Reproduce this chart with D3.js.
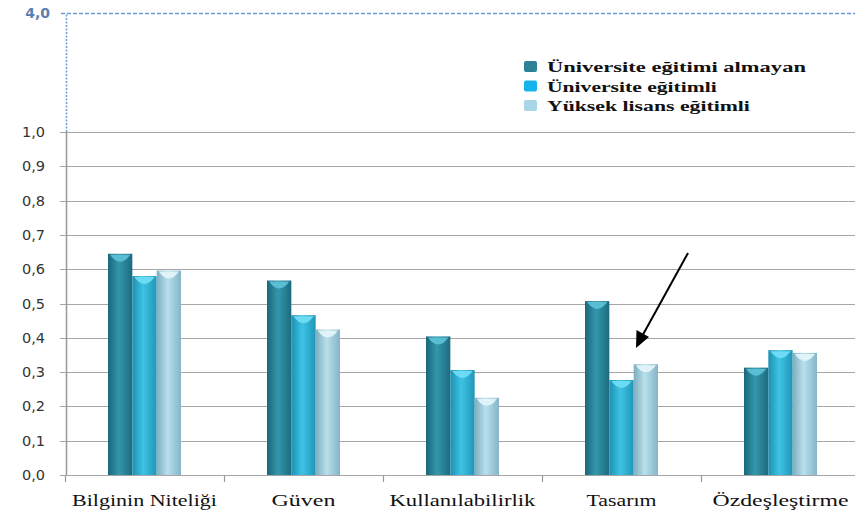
<!DOCTYPE html>
<html><head><meta charset="utf-8">
<script src="https://cdn.jsdelivr.net/npm/d3@7"></script>
<style>body{margin:0;background:#fff}svg{display:block}</style>
</head><body>
<svg id="c" width="855" height="518"></svg>
<script>
const categories = ["Bilginin Niteliği","Güven","Kullanılabilirlik","Tasarım","Özdeşleştirme"];
const seriesNames = ["Üniversite eğitimi almayan","Üniversite eğitimli","Yüksek lisans eğitimli"];
const almayan = [0.645, 0.567, 0.404, 0.507, 0.313];
const egitimli = [0.580, 0.466, 0.306, 0.277, 0.364];
const yuksek = [0.596, 0.424, 0.225, 0.323, 0.356];
const yTicks = [0,0.1,0.2,0.3,0.4,0.5,0.6,0.7,0.8,0.9,1.0];
const breakTop = 4.0;

const svg = d3.select("#c");
const L = 66, T = 132, B = 475, bandW = 159;
const x = d3.scaleBand().domain(categories).range([L-1, L-1+bandW*categories.length]).paddingInner(0).paddingOuter(0);
const y = d3.scaleLinear().domain([0,1]).range([B,T]);
const yBreak = d3.scaleLinear().domain([1,breakTop]).range([T,13]);
const xs = d3.scaleBand().domain([0,1,2]).range([0,73]);

const fmt = v => d3.format(".1f")(v).replace(".",",");

const defs = svg.append("defs");
const pal = [["#1a6779","#3497ad","#1c6b7d"],["#1e90b1","#3ec3e5","#2096b7"],["#7dadc0","#b9dfeb","#84b5c8"]];
pal.forEach((p,i)=>{
  const g = defs.append("linearGradient").attr("id","g"+i).attr("x1",0).attr("x2",1).attr("y1",0).attr("y2",0);
  g.append("stop").attr("offset","0%").attr("stop-color",p[0]);
  g.append("stop").attr("offset","45%").attr("stop-color",p[1]);
  g.append("stop").attr("offset","100%").attr("stop-color",p[2]);
});
const capCols = ["#5cc0d6","#6fdcf5","#e2f4fa"];

svg.append("g").selectAll("line").data(yTicks).join("line")
  .attr("x1",L-6).attr("x2",855).attr("y1",d=>Math.round(y(d))+0.5).attr("y2",d=>Math.round(y(d))+0.5)
  .attr("stroke","#a6a6a6").attr("stroke-width",1.2);

svg.append("g").selectAll("text").data(yTicks).join("text")
  .attr("x",45).attr("y",d=>y(d)+5).attr("text-anchor","end")
  .attr("font-family","DejaVu Sans, Verdana, sans-serif").attr("font-size",14.5).attr("fill","#333")
  .text(fmt);

svg.append("line").attr("x1",L+0.5).attr("x2",L+0.5).attr("y1",yBreak(1)).attr("y2",yBreak(breakTop))
  .attr("stroke","#6f9bd3").attr("stroke-width",1.5).attr("stroke-dasharray","2,1.5");
svg.append("line").attr("x1",L-5).attr("x2",855).attr("y1",yBreak(breakTop)+0.5).attr("y2",yBreak(breakTop)+0.5)
  .attr("stroke","#6f9bd3").attr("stroke-width",1.5).attr("stroke-dasharray","4,2");
svg.append("text").attr("x",50).attr("y",yBreak(breakTop)+5).attr("text-anchor","end")
  .attr("font-family","DejaVu Sans, Verdana, sans-serif").attr("font-size",14).attr("font-weight","bold")
  .attr("fill","#5a7fb0").text(fmt(breakTop));

svg.append("line").attr("x1",L+0.5).attr("x2",L+0.5).attr("y1",T).attr("y2",B).attr("stroke","#999").attr("stroke-width",1.5);
svg.append("g").selectAll("line").data(d3.range(categories.length+1)).join("line")
  .attr("x1",i=>L-1+i*bandW+0.5).attr("x2",i=>L-1+i*bandW+0.5).attr("y1",B).attr("y2",B+7)
  .attr("stroke","#999").attr("stroke-width",1.2);

const series = [almayan, egitimli, yuksek];
const data = [];
categories.forEach((c,ci)=>series.forEach((s,si)=>data.push({c,si,v:s[ci]})));
const gx = c => x(c) + x.bandwidth()/2 - 36.5;
const bars = svg.append("g").selectAll("g").data(data).join("g");
bars.append("rect")
  .attr("x",d=>gx(d.c)+xs(d.si)).attr("width",xs.bandwidth())
  .attr("y",d=>y(d.v)).attr("height",d=>B-y(d.v))
  .attr("fill",d=>"url(#g"+d.si+")");
bars.append("path")
  .attr("d",d=>{const x0=gx(d.c)+xs(d.si)+2, w=xs.bandwidth()-4, y0=y(d.v)+1;
    return `M${x0},${y0} L${x0+w},${y0} Q${x0+w/2},${y0+14} ${x0},${y0} Z`;})
  .attr("fill",d=>capCols[d.si]).attr("opacity",0.95);

// stretched text helper: scales horizontally to the wanted width
function stretch(sel, x0, yb, w){
  const n = sel.node().getComputedTextLength();
  sel.attr("x",0).attr("y",0).attr("transform",`translate(${x0},${yb}) scale(${w/n},1)`);
}

const catLen = [145, 64, 146, 70, 136];
const cg = svg.append("g");
categories.forEach((c,i)=>{
  const t = cg.append("text")
    .attr("font-family","Liberation Serif, Times New Roman, serif").attr("font-size",17).attr("fill","#111")
    .text(c);
  stretch(t, x(c)+x.bandwidth()/2 - catLen[i]/2, 506, catLen[i]);
});

const legLen = [259, 170, 203];
const lg = svg.append("g").attr("transform","translate(524,60)");
seriesNames.forEach((n,i)=>{
  lg.append("rect").attr("x",0).attr("y",i*19.5+1).attr("width",13).attr("height",11).attr("rx",2)
    .attr("fill",[ "#2e8197","#15b4ea","#a8d6e6"][i]);
  const t = lg.append("text")
    .attr("font-family","Liberation Serif, Times New Roman, serif").attr("font-size",15.5).attr("font-weight","bold")
    .attr("fill","#111").text(n);
  stretch(t, 23, i*19.5+12, legLen[i]);
});

svg.append("line").attr("x1",688).attr("y1",253).attr("x2",640).attr("y2",340)
  .attr("stroke","#000").attr("stroke-width",2);
svg.append("path").attr("d","M636,348 L636.5,330 L649,337 Z").attr("fill","#000");
</script>
</body></html>
